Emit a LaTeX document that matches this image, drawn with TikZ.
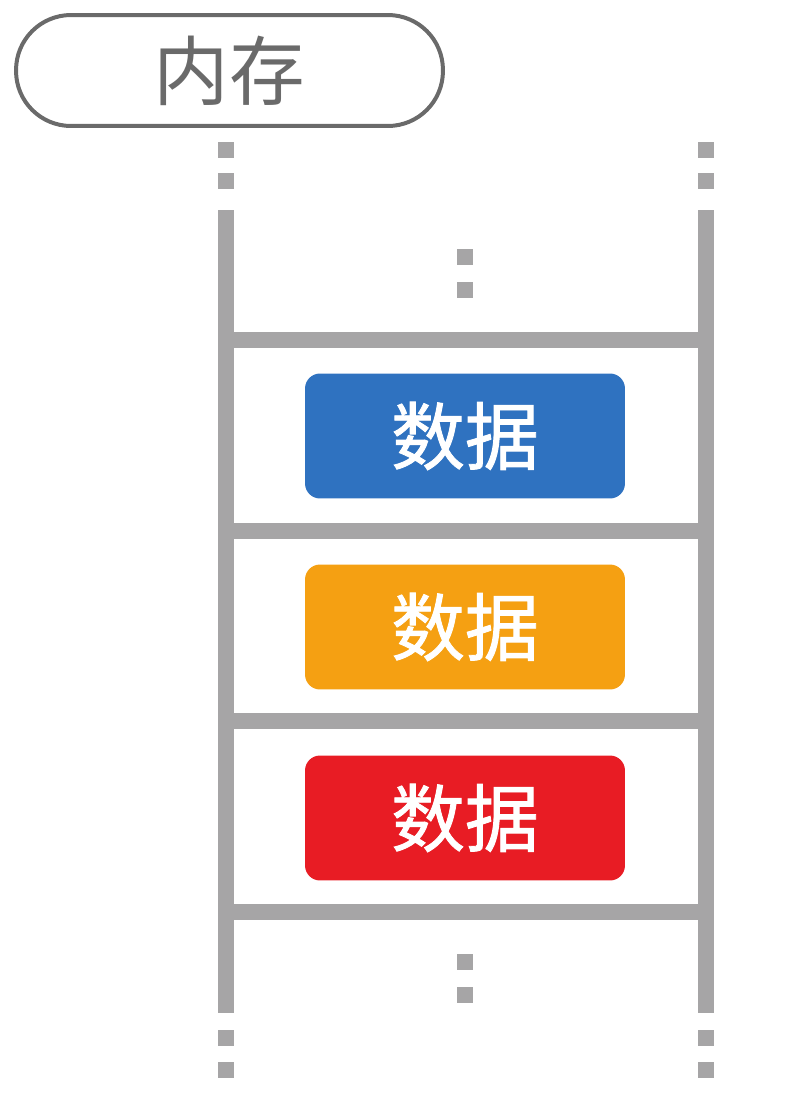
\documentclass[tikz,border=0pt]{standalone}
\usepackage{fontspec}
\newfontfamily\cjk{Noto Sans CJK SC}
\newfontfamily\cjkthick[FakeBold=1.2]{Noto Sans CJK SC}
\usetikzlibrary{positioning}
\definecolor{railgrey}{HTML}{A6A5A6}
\definecolor{labelgrey}{HTML}{6A6A6A}
\definecolor{datablue}{HTML}{2F72C0}
\definecolor{dataorange}{HTML}{F5A012}
\definecolor{datared}{HTML}{E81C24}
\tikzset{
    rail/.style={draw=railgrey, line width=0.32cm},
    dotsq/.style={fill=railgrey, minimum size=0.32cm, inner sep=0pt},
    pill/.style={draw=labelgrey, line width=0.08cm, rounded corners=1.1cm,
        minimum width=8.54cm, minimum height=2.22cm, text=labelgrey,
        font=\cjk\fontsize{43}{48}\selectfont},
    databox/.style={rounded corners=0.3cm, minimum width=6.4cm, minimum height=2.5cm,
        text=white, font=\cjkthick\fontsize{42}{48}\selectfont}
}

\begin{document}
\begin{tikzpicture}[x=0.02cm, y=-0.02cm]
    \useasboundingbox (0, 0) rectangle (800, 1106);
    \node[pill] (mem) at (229.5, 70.5) {内存};
    % rails
    \coordinate (railLtop) at (226, 210);
    \coordinate (railLbot) at (226, 1013);
    \coordinate (railRtop) at (706, 210);
    \coordinate (railRbot) at (706, 1013);
    \draw[rail] (railLtop) -- (railLbot);
    \draw[rail] (railRtop) -- (railRbot);
    \foreach \y in {340, 531, 721, 912} {
        \draw[rail] (226, \y) -- (706, \y);
    }
    % dots
    \foreach \y [count=\i] in {150, 181} {
        \node[dotsq] (topL\i) at (226, \y) {};
        \node[dotsq] (topR\i) at (706, \y) {};
    }
    \foreach \y [count=\i] in {1038, 1070} {
        \node[dotsq] (botL\i) at (226, \y) {};
        \node[dotsq] (botR\i) at (706, \y) {};
    }
    \foreach \y [count=\i] in {257, 290} {
        \node[dotsq] (midT\i) at (465, \y) {};
    }
    \foreach \y [count=\i] in {962, 995} {
        \node[dotsq] (midB\i) at (465, \y) {};
    }
    % data
    \node[databox, fill=datablue] (data1) at (465, 436) {数据};
    \node[databox, fill=dataorange] (data2) at (465, 627) {数据};
    \node[databox, fill=datared] (data3) at (465, 818) {数据};
\end{tikzpicture}
\end{document}
